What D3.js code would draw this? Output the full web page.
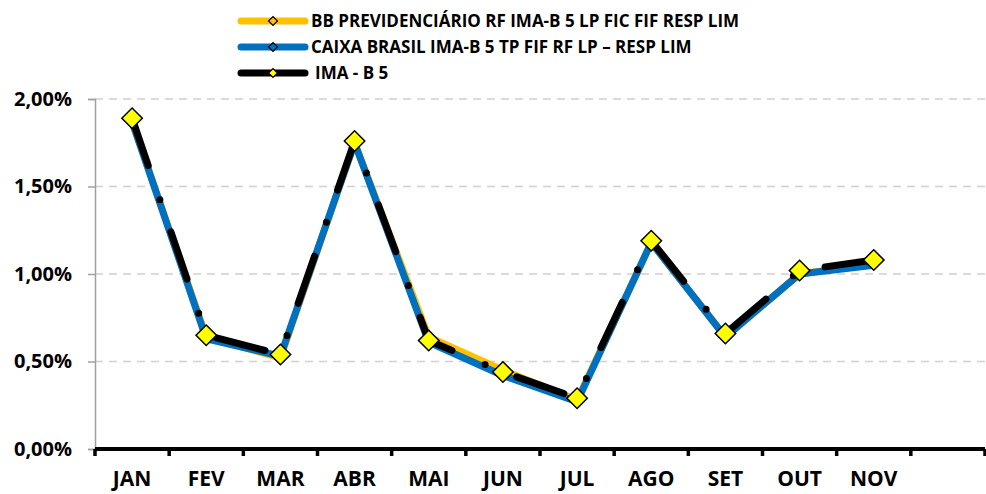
<!DOCTYPE html>
<html>
<head>
<meta charset="utf-8">
<script src="https://cdn.jsdelivr.net/npm/d3@7"></script>
<style>
  body { margin: 0; background: #fff; }
  text { font-family: "Open Sans", "Noto Sans", sans-serif; font-weight: bold; }
</style>
</head>
<body>
<div id="chart"></div>
<script>
// categories (last slot is empty, as in the original sheet)
const months = ["JAN", "FEV", "MAR", "ABR", "MAI", "JUN", "JUL", "AGO", "SET", "OUT", "NOV", ""]
const yTicks = [0, 0.5, 1, 1.5, 2]

// monthly returns in %
const bbPrev = [1.87, 0.64, 0.52, 1.75, 0.64, 0.45, 0.28, 1.18, 0.64, 1.00, 1.06]
const caixa = [1.87, 0.63, 0.53, 1.75, 0.61, 0.42, 0.27, 1.18, 0.64, 1.00, 1.05]
const imaB5 = [1.89, 0.65, 0.54, 1.76, 0.62, 0.44, 0.29, 1.19, 0.66, 1.02, 1.08]

const seriesNames = [
  "BB PREVIDENCIÁRIO RF IMA-B 5 LP FIC FIF RESP LIM",
  "CAIXA BRASIL IMA-B 5 TP FIF RF LP – RESP LIM",
  "IMA - B 5"
]

const totalWidth = 986
const totalHeight = 494
var margin = {top: 99, right: 1, bottom: 45, left: 95},
    width = totalWidth - margin.left - margin.right,
    height = totalHeight - margin.top - margin.bottom

var svg = d3.select("#chart").append("svg")
  .attr("width", totalWidth)
  .attr("height", totalHeight)

var g = svg.append("g")
  .attr("transform", "translate(" + margin.left + "," + margin.top + ")")

var x = d3.scaleBand().domain(months).range([0, width])
var y = d3.scaleLinear().domain([0, 2]).range([height, 0])

// gridlines
g.selectAll(".grid").data(yTicks.filter(d => d > 0)).enter()
  .append("line")
  .attr("x1", 0).attr("x2", width)
  .attr("y1", d => y(d)).attr("y2", d => y(d))
  .attr("stroke", "#d0d0d0").attr("stroke-width", 1.5)
  .attr("stroke-dasharray", "8,6")

// y axis
var yAxis = g.append("g")
  .call(d3.axisLeft(y).tickValues(yTicks).tickSize(7).tickPadding(16)
    .tickFormat(d => d.toFixed(2).replace(".", ",") + "%"))
yAxis.select(".domain").attr("stroke", "#a0a0a0").attr("stroke-width", 1.5)
yAxis.selectAll(".tick line").attr("stroke", "#a0a0a0").attr("stroke-width", 1.5)
yAxis.selectAll("text").attr("font-size", 20).attr("fill", "#000")
  .style("font-family", "'Open Sans', sans-serif").style("font-weight", "bold")

// x axis
var xAxis = g.append("g")
  .attr("transform", "translate(0," + height + ")")
  .call(d3.axisBottom(x).tickSize(0).tickPadding(22))
xAxis.select(".domain").remove()
xAxis.selectAll("text").attr("font-size", 21).attr("fill", "#000")
  .style("font-family", "'Open Sans', sans-serif").style("font-weight", "bold")

g.append("line")
  .attr("x1", 0).attr("x2", width)
  .attr("y1", height).attr("y2", height)
  .attr("stroke", "#000").attr("stroke-width", 4)

var bounds = months.map(m => x(m)).concat([width])
g.selectAll(".xtick").data(bounds).enter()
  .append("line")
  .attr("x1", d => d).attr("x2", d => d)
  .attr("y1", height).attr("y2", height + 7)
  .attr("stroke", "#000").attr("stroke-width", 3.5)

var line = d3.line()
  .x((d, i) => x(months[i]) + x.bandwidth() / 2)
  .y(d => y(d))

g.append("path").datum(bbPrev)
  .attr("fill", "none").attr("stroke", "#ffc000").attr("stroke-width", 7)
  .attr("stroke-linejoin", "round").attr("d", line)

g.append("path").datum(caixa)
  .attr("fill", "none").attr("stroke", "#0070c0").attr("stroke-width", 7)
  .attr("stroke-linejoin", "round").attr("d", line)

g.append("path").datum(imaB5)
  .attr("fill", "none").attr("stroke", "#000").attr("stroke-width", 7)
  .attr("stroke-linecap", "round")
  .attr("stroke-dasharray", "50,36,0,34").attr("d", line)

// diamond markers
var diamond = d3.symbol().type(d3.symbolSquare).size(210)
g.selectAll(".mk").data(imaB5).enter()
  .append("path")
  .attr("d", diamond)
  .attr("transform", (d, i) => "translate(" + (x(months[i]) + x.bandwidth() / 2) + "," + y(d) + ") rotate(45)")
  .attr("fill", "#ffff00").attr("stroke", "#000").attr("stroke-width", 1.5)

// legend
var legendColors = ["#ffc000", "#0070c0", "#000"]
var markerFill = ["#ffc000", "#0070c0", "#ffff00"]
var legendY = [21, 47, 73]
var leg = svg.append("g")
seriesNames.forEach(function(name, i) {
  leg.append("line")
    .attr("x1", 241).attr("x2", 305)
    .attr("y1", legendY[i]).attr("y2", legendY[i])
    .attr("stroke", legendColors[i]).attr("stroke-width", 7)
    .attr("stroke-linecap", "round")
  leg.append("path")
    .attr("d", d3.symbol().type(d3.symbolSquare).size(40))
    .attr("transform", "translate(273," + legendY[i] + ") rotate(45)")
    .attr("fill", markerFill[i]).attr("stroke", "#000").attr("stroke-width", 1.2)
  leg.append("text")
    .attr("x", i == 2 ? 315 : 311).attr("y", legendY[i])
    .attr("dy", "0.36em")
    .attr("font-size", 17)
    .text(name)
})
</script>
</body>
</html>
